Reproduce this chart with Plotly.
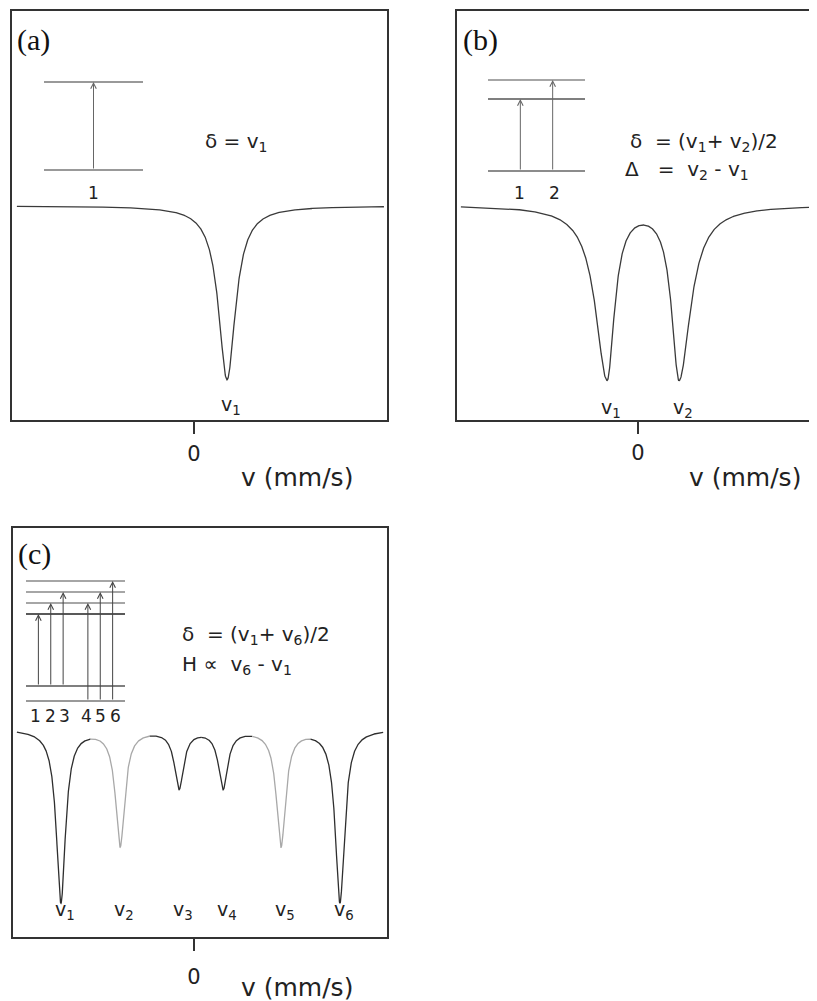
import numpy as np
import plotly.graph_objects as go

# ---------------- data ----------------
# (a) single line
a_pos = [1.26]
a_depth = [0.402]
a_hwhm_left = [0.39]
a_hwhm_right = [0.39]
a_labels = ["v<sub>1</sub>"]

# (b) quadrupole doublet
b_pos = [-1.18, 1.565]
b_depth = [0.40, 0.40]
b_hwhm_left = [0.53, 0.34]
b_hwhm_right = [0.34, 0.53]
b_labels = ["v<sub>1</sub>", "v<sub>2</sub>"]

# (c) magnetic sextet
c_pos = [-5.08, -2.82, -0.57, 1.11, 3.32, 5.57]
c_depth = [0.40, 0.268, 0.134, 0.134, 0.268, 0.40]
c_hwhm = [0.21, 0.21, 0.21, 0.21, 0.21, 0.21]
c_colors = ["#2e2e2e", "#a8a8a8", "#2e2e2e", "#2e2e2e", "#a8a8a8", "#2e2e2e"]
c_labels = ["v<sub>1</sub>", "v<sub>2</sub>", "v<sub>3</sub>",
            "v<sub>4</sub>", "v<sub>5</sub>", "v<sub>6</sub>"]

# energy-level insets
a_levels = [0.0, 1.0]
a_level_colors = ["#777777", "#777777"]
a_trans_x = [1]
a_trans_from = [0]
a_trans_to = [1]
a_trans_labels = ["1"]
a_label_x = [1]

b_levels = [0.0, 1.0, 1.264]
b_level_colors = ["#666666", "#555555", "#888888"]
b_trans_x = [1, 2]
b_trans_from = [0, 0]
b_trans_to = [1, 2]
b_trans_labels = ["1", "2"]
b_label_x = [0.97, 2.05]

c_levels = [0.0, 1.5, 8.7, 9.8, 10.9, 12.0]
c_level_colors = ["#777777", "#555555", "#222222", "#888888", "#888888", "#888888"]
c_trans_x = [1, 2, 3, 5, 6, 7]
c_trans_from = [1, 1, 1, 0, 0, 0]
c_trans_to = [2, 3, 4, 3, 4, 5]
c_trans_labels = ["1", "2", "3", "4", "5", "6"]
c_label_x = [0.73, 1.94, 3.15, 4.85, 6.06, 7.27]

# ---------------- layout geometry ----------------
W, H = 817, 1001
OFF = 8       # page body margin of the exported html
PXX = 26.2    # px per mm/s
PXY = 432.5   # px per transmission unit


def px(x):
    return (x - OFF) / W


def py(y):
    return 1 - (y - OFF) / H


def xdom(p0, p1):
    return [max(0, px(p0)), min(1, px(p1))]


def ydom(top, bot):
    return [max(0, py(bot)), min(1, py(top))]


def spectrum(v, pos, depth, gl, gr):
    y = np.ones_like(v)
    for p, d, l, r in zip(pos, depth, gl, gr):
        g = np.where(v < p, l, r)
        y = y - d * g ** 2 / (g ** 2 + (v - p) ** 2)
    return y


panels = {
    "a": dict(L=12, R=387, T=11, B=420, zero=194, base=206, ax="", vs=-6.76, ve=7.25, mirror=True),
    "b": dict(L=457, R=825, T=11, B=420, zero=638, base=205, ax="2", vs=-6.76, ve=7.3, mirror=False),
    "c": dict(L=13, R=387, T=528, B=937, zero=194, base=729, ax="3", vs=-6.76, ve=7.22, mirror=True),
}

fig = go.Figure()
layout = dict(
    width=W, height=H, margin=dict(l=0, r=0, t=0, b=0),
    paper_bgcolor="white", plot_bgcolor="white", showlegend=False,
    font=dict(family="DejaVu Sans", color="#222222"),
)
annotations = []

standoffs = {"a": 2, "b": 1, "c": 8}
for key, P in panels.items():
    ax = P["ax"]
    xr = [(P["L"] - P["zero"]) / PXX, (P["R"] - P["zero"]) / PXX]
    yr = [1 - (P["B"] - P["base"]) / PXY, 1 + (P["base"] - P["T"]) / PXY]
    layout["xaxis" + ax] = dict(
        domain=xdom(P["L"], P["R"]), range=xr, anchor="y" + ax,
        showline=True, linecolor="#333333", linewidth=1.5, mirror=True,
        showgrid=False, zeroline=False,
        tickmode="array", tickvals=[0], ticktext=["0"], ticks="outside",
        ticklen=12, tickwidth=1.5, tickcolor="#333333",
        tickfont=dict(size=21, family="DejaVu Sans", color="#222222"),
        ticklabelstandoff=standoffs[key],
    )
    layout["yaxis" + ax] = dict(
        domain=ydom(P["T"], P["B"]), range=yr, anchor="x" + ax,
        showline=True, linecolor="#333333", linewidth=1.5, mirror=P["mirror"],
        showgrid=False, zeroline=False, showticklabels=False, ticks="",
    )
    # axis title
    tx = {"a": 297, "b": 745, "c": 297}[key]
    ty = {"a": 477, "b": 477, "c": 987}[key]
    annotations.append(dict(text="v (mm/s)", xref="paper", yref="paper",
                            x=px(tx), y=py(ty), xanchor="center", yanchor="middle",
                            showarrow=False, font=dict(size=25, family="DejaVu Sans", color="#222222")))
    # panel letter
    lx = {"a": 15, "b": 461, "c": 16}[key]
    ly = {"a": 40, "b": 40, "c": 554}[key]
    annotations.append(dict(text="(" + key + ")", xref="paper", yref="paper",
                            x=px(lx), y=py(ly), xanchor="left", yanchor="middle",
                            showarrow=False, font=dict(size=30, family="Liberation Serif", color="#111111")))

# ---- spectra ----
Pa = panels["a"]
va = np.linspace(Pa["vs"], Pa["ve"], 1500)
fig.add_trace(go.Scatter(x=va, y=spectrum(va, a_pos, a_depth, a_hwhm_left, a_hwhm_right),
                         mode="lines", line=dict(color="#3a3a3a", width=1.3), xaxis="x", yaxis="y",
                         hoverinfo="skip"))
Pb = panels["b"]
vb = np.linspace(Pb["vs"], Pb["ve"], 1500)
fig.add_trace(go.Scatter(x=vb, y=spectrum(vb, b_pos, b_depth, b_hwhm_left, b_hwhm_right),
                         mode="lines", line=dict(color="#3a3a3a", width=1.3), xaxis="x2", yaxis="y2",
                         hoverinfo="skip"))
Pc = panels["c"]
vc = np.linspace(Pc["vs"], Pc["ve"], 3000)
yc = spectrum(vc, c_pos, c_depth, c_hwhm, c_hwhm)
bounds = [Pc["vs"]] + [(c_pos[i] + c_pos[i + 1]) / 2 for i in range(5)] + [Pc["ve"]]
for i in range(6):
    m = (vc >= bounds[i]) & (vc <= bounds[i + 1])
    idx = np.where(m)[0]
    if idx[-1] + 1 < len(vc):
        idx = np.append(idx, idx[-1] + 1)
    fig.add_trace(go.Scatter(x=vc[idx], y=yc[idx], mode="lines",
                             line=dict(color=c_colors[i], width=1.3),
                             xaxis="x3", yaxis="y3", hoverinfo="skip"))

# peak labels
for pos, lab in zip(a_pos, a_labels):
    annotations.append(dict(text=lab, xref="x", yref="paper", x=pos, y=py(405), xshift=4,
                            showarrow=False, font=dict(size=19, color="#222222")))
for pos, lab in zip(b_pos, b_labels):
    annotations.append(dict(text=lab, xref="x2", yref="paper", x=pos, y=py(408), xshift=4,
                            showarrow=False, font=dict(size=19, color="#222222")))
for pos, lab in zip(c_pos, c_labels):
    annotations.append(dict(text=lab, xref="x3", yref="paper", x=pos, y=py(925), xshift=4,
                            showarrow=False, font=dict(size=19, color="#222222")))

# formulas
NB = "\u00a0"
formulas = [
    ("\u03b4 = v<sub>1</sub>", 203, 142),
    ("\u03b4" + NB * 2 + "= (v<sub>1</sub>+ v<sub>2</sub>)/2", 628, 142),
    ("\u0394" + NB * 3 + "=" + NB * 2 + "v<sub>2</sub> - v<sub>1</sub>", 623, 170),
    ("\u03b4" + NB * 2 + "= (v<sub>1</sub>+ v<sub>6</sub>)/2", 180, 635),
    ("H \u221d" + NB * 2 + "v<sub>6</sub> - v<sub>1</sub>", 180, 665),
]
for txt, fx, fy in formulas:
    annotations.append(dict(text=txt, xref="paper", yref="paper", x=px(fx), y=py(fy),
                            xanchor="left", yanchor="middle", showarrow=False,
                            font=dict(size=20, color="#222222")))

# ---- insets (energy-level diagrams) ----
insets = [
    # axis id, px left, px right, xmax, px of energy 0, px per unit, dom top, dom bottom, label px
    ("4", 44, 143, 2, 170, 88, 60, 205, 193, a_levels, a_level_colors, a_trans_x, a_trans_from, a_trans_to, a_trans_labels, a_label_x, "#666666"),
    ("5", 488, 585, 3, 171, 72, 60, 205, 193, b_levels, b_level_colors, b_trans_x, b_trans_from, b_trans_to, b_trans_labels, b_label_x, "#666666"),
    ("6", 26, 125, 8, 701, 10, 570, 725, 716, c_levels, c_level_colors, c_trans_x, c_trans_from, c_trans_to, c_trans_labels, c_label_x, "#444444"),
]
for (aid, pl, pr, xmax, p0, u, dt, db, lp, levels, lcols, tx, tf, tt, tl, lx, acol) in insets:
    layout["xaxis" + aid] = dict(domain=xdom(pl, pr), range=[0, xmax], visible=False, anchor="y" + aid)
    layout["yaxis" + aid] = dict(domain=ydom(dt, db), range=[-(db - p0) / u, (p0 - dt) / u],
                                 visible=False, anchor="x" + aid)
    for lev, col in zip(levels, lcols):
        fig.add_trace(go.Scatter(x=[0, xmax], y=[lev, lev], mode="lines",
                                 line=dict(color=col, width=1.5),
                                 xaxis="x" + aid, yaxis="y" + aid, hoverinfo="skip"))
    for x0, f, t in zip(tx, tf, tt):
        annotations.append(dict(text="", x=x0, y=levels[t], ax=x0, ay=levels[f],
                                xref="x" + aid, yref="y" + aid, axref="x" + aid, ayref="y" + aid,
                                showarrow=True, arrowhead=5, arrowsize=1.1, arrowwidth=1,
                                arrowcolor=acol, standoff=0, startstandoff=0))
    for x0, lab in zip(lx, tl):
        annotations.append(dict(text=lab, x=x0, y=(p0 - lp) / u, xref="x" + aid, yref="y" + aid,
                                showarrow=False, font=dict(size=17, color="#222222")))

layout["annotations"] = annotations
fig.update_layout(**layout)
fig.write_html("out.html")
